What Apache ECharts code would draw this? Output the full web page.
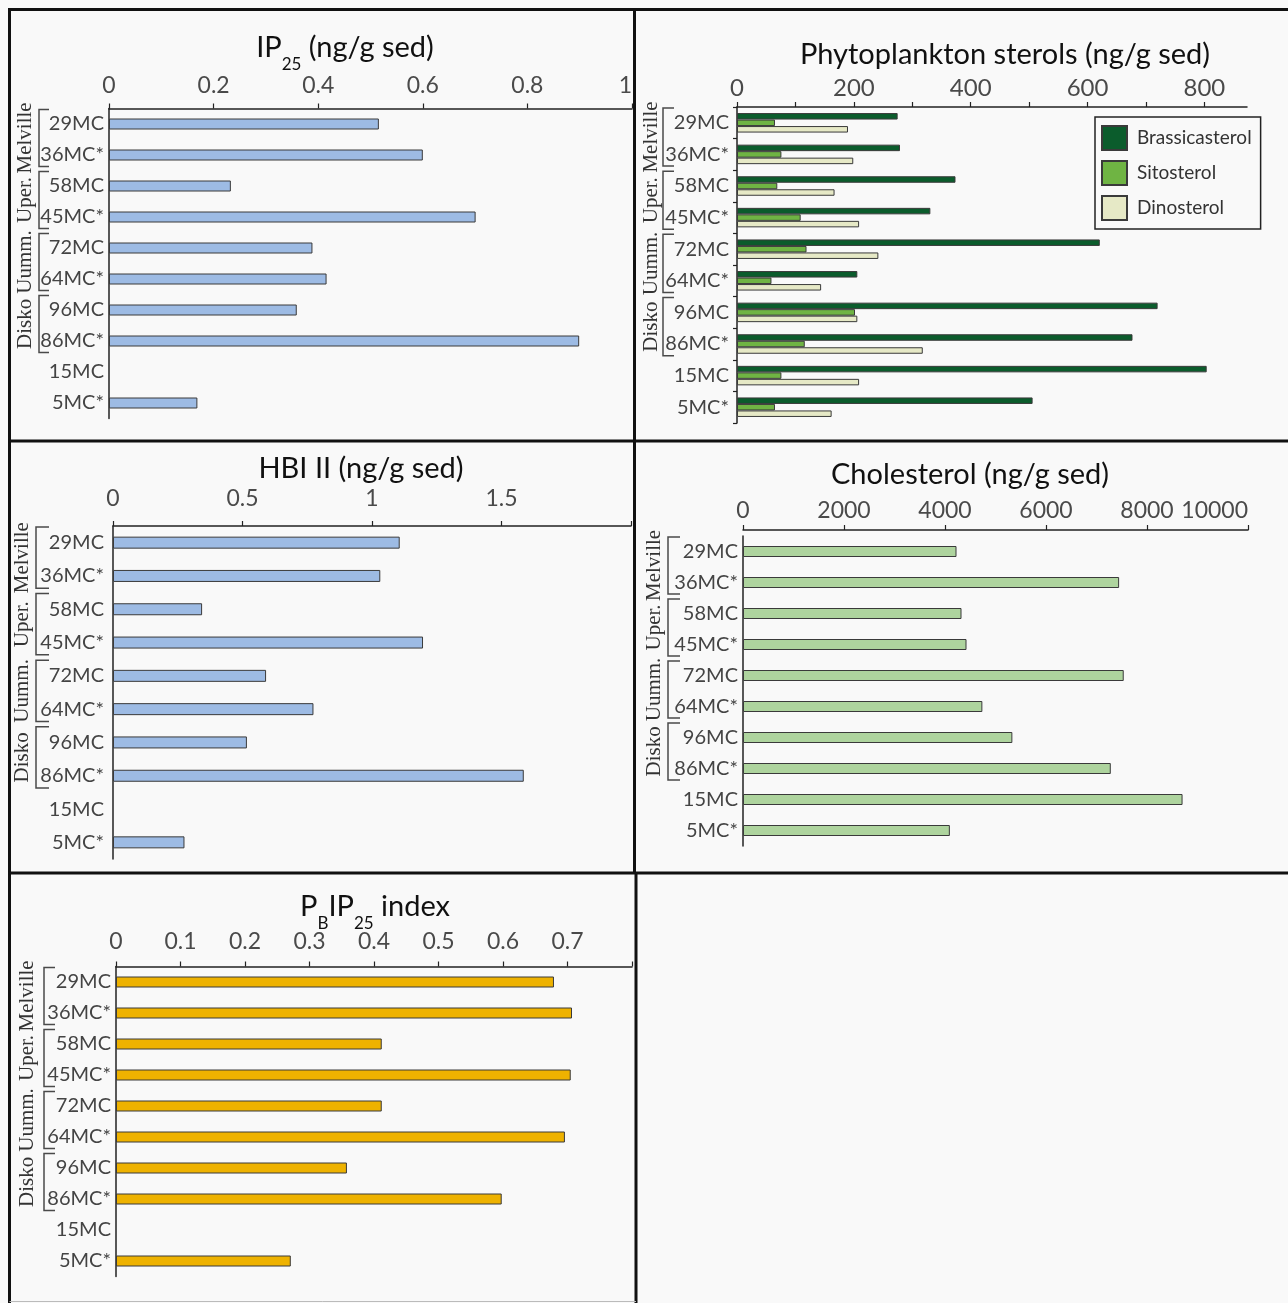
<!DOCTYPE html>
<html>
<head>
<meta charset="utf-8">
<script src="https://cdn.jsdelivr.net/npm/echarts@6/dist/echarts.min.js"></script>
<style>
  html, body { margin: 0; padding: 0; background: #f9f9f9; }
  #chart { width: 1288px; height: 1303px; }
</style>
</head>
<body>
<div id="chart"></div>
<script>
// Core sites, top to bottom
const cores = ['29MC', '36MC*', '58MC', '45MC*', '72MC', '64MC*', '96MC', '86MC*', '15MC', '5MC*'];

// Biomarker concentrations per core (null = not measured)
const ip25 = [0.516, 0.600, 0.233, 0.701, 0.389, 0.416, 0.359, 0.899, null, 0.169];
const brassicasterol = [275, 279, 374, 331, 621, 206, 720, 677, 804, 506];
const sitosterol = [65, 76, 69, 109, 119, 59, 202, 116, 76, 65];
const dinosterol = [190, 199, 167, 209, 242, 144, 206, 318, 209, 162];
const hbi2 = [1.107, 1.032, 0.344, 1.197, 0.591, 0.774, 0.517, 1.586, null, 0.276];
const cholesterol = [4228, 7448, 4327, 4426, 7539, 4740, 5334, 7283, 8704, 4096];
const pbip25 = [0.679, 0.707, 0.412, 0.705, 0.412, 0.696, 0.358, 0.598, null, 0.271];

// Regional groupings of paired cores
const regionNames = ['Melville', 'Uper.', 'Uumm.', 'Disko'];
const regionFirst = ['29MC', '58MC', '72MC', '96MC'];
const regionLast = ['36MC*', '45MC*', '64MC*', '86MC*'];

// Axis tick values
const sterolTicks = [0, 100, 200, 300, 400, 500, 600, 700, 800];
const sterolLabels = [0, 200, 400, 600, 800];

const FONT = 'Lato';
const SERIF = '"Liberation Serif", "DejaVu Serif", serif';
const AX = '#222';

const chart = echarts.init(document.getElementById('chart'), null, { renderer: 'canvas' });

// Panel layout: grid box, x scale, label gaps, bracket positions
const panels = [
  { left: 109, top: 108.5, width: 523, height: 310, max: 1, interval: 0.2, hideMax: false, labelMargin: 11, catMargin: 5, offset: 0, bracketX: 39, tickX: 49, textX: 25 },
  { left: 737, top: 107, width: 510, height: 316, max: 873, interval: null, hideMax: false, labelMargin: 7, catMargin: 8, offset: 0, bracketX: 663, tickX: 674, textX: 651 },
  { left: 113, top: 526, width: 518, height: 333, max: 2, interval: 0.5, hideMax: true, labelMargin: 16, catMargin: 9, offset: 0, bracketX: 36, tickX: 49, textX: 22 },
  { left: 743, top: 536, width: 505, height: 310, max: 10000, interval: 2000, hideMax: false, labelMargin: 8, catMargin: 5, offset: 6, bracketX: 668, tickX: 680, textX: 654 },
  { left: 116, top: 966.5, width: 516, height: 310, max: 0.8, interval: 0.1, hideMax: true, labelMargin: 13, catMargin: 5, offset: 0, bracketX: 44, tickX: 55, textX: 27 }
];

const grids = panels.map(p => ({ left: p.left, top: p.top, width: p.width, height: p.height, containLabel: false }));

const xAxes = panels.map((p, i) => {
  const ax = {
    type: 'value', gridIndex: i, position: 'top', min: 0, max: p.max, offset: p.offset,
    axisLine: { show: true, lineStyle: { color: AX, width: 1.5 } },
    axisTick: { show: true, inside: false, length: 5, lineStyle: { color: AX, width: 1.2 } },
    splitLine: { show: false },
    axisLabel: {
      margin: p.labelMargin, fontFamily: FONT, fontSize: 23, color: '#4a4a4a',
      alignMaxLabel: 'right',
      formatter: v => (p.hideMax && Math.abs(v - p.max) < 1e-9) ? '' : String(v)
    }
  };
  if (p.interval) ax.interval = p.interval;
  if (i === 1) {
    ax.axisTick.customValues = sterolTicks;
    ax.axisLabel.customValues = sterolLabels;
    ax.axisLabel.fontSize = 24;
    ax.axisLabel.alignMaxLabel = null;
  }
  return ax;
});

const yAxes = panels.map((p, i) => ({
  type: 'category', gridIndex: i, data: cores, inverse: true,
  axisLine: { show: true, lineStyle: { color: AX, width: 1.5 } },
  axisTick: { show: i === 1, length: 4, lineStyle: { color: AX, width: 1.2 } },
  axisLabel: { margin: p.catMargin, fontFamily: FONT, fontSize: 20, color: '#444' }
}));

const barBase = (name, data, idx, color, width) => ({
  name, type: 'bar', data, xAxisIndex: idx, yAxisIndex: idx, barWidth: width,
  itemStyle: { color, borderColor: '#3a3a3a', borderWidth: 1 },
  emphasis: { disabled: true }, animation: false
});

const series = [
  barBase('IP25', ip25, 0, '#9dbbe4', 11),
  Object.assign(barBase('Brassicasterol', brassicasterol, 1, '#0b5c2c', 6.5), { barGap: '0%' }),
  Object.assign(barBase('Sitosterol', sitosterol, 1, '#6fb443', 6.5), { barGap: '0%' }),
  Object.assign(barBase('Dinosterol', dinosterol, 1, '#e6e9c6', 6.5), { barGap: '0%' }),
  barBase('HBI II', hbi2, 2, '#9dbbe4', 12),
  barBase('Cholesterol', cholesterol, 3, '#aed49e', 11),
  barBase('PBIP25', pbip25, 4, '#eeb200', 11)
];

const titleRich = {
  m: { fontFamily: FONT, fontSize: 29, fontWeight: 'normal', lineHeight: 30, color: '#111', verticalAlign: 'top' },
  s: { fontFamily: FONT, fontSize: 17, fontWeight: 'normal', lineHeight: 17, color: '#111', verticalAlign: 'top', padding: [23, 0, 0, 0] }
};
const mkTitle = (text, x, y) => ({
  text, left: x, top: y, textAlign: 'center', padding: 0,
  textStyle: { fontWeight: 'normal', rich: titleRich }
});
const titles = [
  mkTitle('{m|IP}{s|25}{m| (ng/g sed)}', 345, 33),
  mkTitle('{m|Phytoplankton sterols (ng/g sed)}', 1005, 40),
  mkTitle('{m|HBI II (ng/g sed)}', 361, 454),
  mkTitle('{m|Cholesterol (ng/g sed)}', 970, 460),
  mkTitle('{m|P}{s|B}{m|IP}{s|25}{m| index}', 375, 892)
];

chart.setOption({
  backgroundColor: '#f9f9f9',
  animation: false,
  title: titles,
  grid: grids,
  xAxis: xAxes,
  yAxis: yAxes,
  legend: {
    data: ['Brassicasterol', 'Sitosterol', 'Dinosterol'],
    orient: 'vertical', left: 1095, top: 117,
    itemWidth: 25, itemHeight: 24, itemGap: 9,
    padding: [8, 9, 8, 6],
    borderColor: '#222', borderWidth: 1.5,
    icon: 'rect',
    textStyle: { fontFamily: FONT, fontSize: 19, color: '#333', padding: [0, 0, 0, 5] },
    selectedMode: false
  },
  series
});

// Region brackets and labels, placed from the category axis scale
const graphics = [];
panels.forEach((p, i) => {
  const c0 = chart.convertToPixel({ yAxisIndex: i }, cores[0]);
  const c1 = chart.convertToPixel({ yAxisIndex: i }, cores[1]);
  const band = c1 - c0;
  regionNames.forEach((name, r) => {
    const yA = chart.convertToPixel({ yAxisIndex: i }, regionFirst[r]) - band * 0.47;
    const yB = chart.convertToPixel({ yAxisIndex: i }, regionLast[r]) + band * 0.37;
    graphics.push({
      type: 'polyline', silent: true,
      shape: { points: [[p.tickX, yA], [p.bracketX, yA], [p.bracketX, yB], [p.tickX, yB]] },
      style: { stroke: '#4a4a4a', lineWidth: 1.5, fill: null }
    });
    graphics.push({
      type: 'text', silent: true, x: p.textX, y: (yA + yB) / 2, rotation: Math.PI / 2,
      style: { text: name, font: '21px ' + SERIF, fill: '#333', align: 'center', verticalAlign: 'middle' }
    });
  });
});

// Panel frame lines
const frame = [
  [[8, 9.5], [1288, 9.5]],
  [[9.5, 8], [9.5, 1303]],
  [[634.5, 8], [634.5, 873]],
  [[636, 873], [636, 1303]],
  [[8, 441], [1288, 441]],
  [[8, 873], [1288, 873]]
];
frame.forEach(seg => graphics.push({
  type: 'line', silent: true, z: 100,
  shape: { x1: seg[0][0], y1: seg[0][1], x2: seg[1][0], y2: seg[1][1] },
  style: { stroke: '#111', lineWidth: 3 }
}));
graphics.push({
  type: 'line', silent: true, z: 100,
  shape: { x1: 9.5, y1: 1301.5, x2: 636, y2: 1301.5 },
  style: { stroke: '#bbb', lineWidth: 1 }
});

chart.setOption({ graphic: graphics });
</script>
</body>
</html>
